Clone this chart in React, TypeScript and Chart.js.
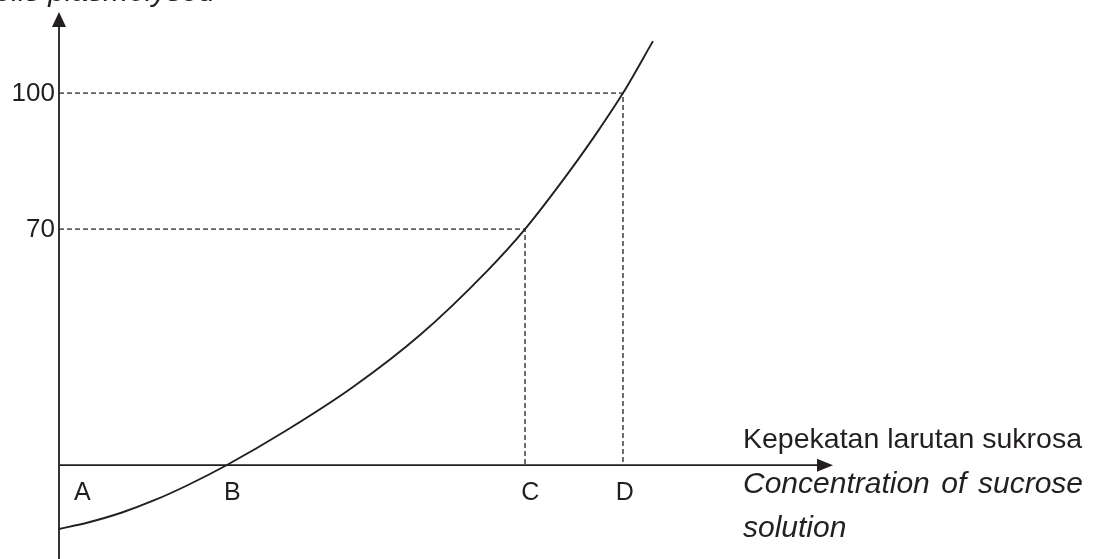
import React, { useEffect, useRef } from "react";
import { Chart, registerables } from "chart.js";

Chart.register(...registerables);

// Curve: concentration (x) vs % cells plasmolysed (y), schematic units
const curveX = [0, 3.75, 8.14, 12.4, 16.67, 21.58, 29.46, 37.98, 46.64, 55.3, 60.21, 66.02, 69.9, 72.87, 76.74];
const curveY = [3.82, 5.26, 7.46, 10.22, 13.53, 17.83, 25.66, 35.15, 46.62, 60.74, 70, 82.9, 92.28, 100, 111.47];

// x-axis baseline level and ranges
const baseLevel = 17.9;
const xMin = 0;
const xMax = 100;
const yMin = -2.8;
const yMax = 117.9;

// guide points (C -> 70, D -> 100)
const guideX = [60.21, 72.87];
const guideY = [70, 100];

const yTickValues = [70, 100];
const yTickLabels = ["70", "100"];

const xLabelValues = [3.0, 22.4, 60.9, 73.1];
const xLabels = ["A", "B", "C", "D"];

const axisTitle1 = "Kepekatan larutan sukrosa";
const axisTitle2Words = ["Concentration", "of", "sucrose"];
const axisTitle3 = "solution";
const yTitle = "Percentage of cells plasmolysed";

const INK = "#231f20";
const FONT = "'Liberation Sans', Arial, sans-serif";

export default function App() {
  const ref = useRef<HTMLCanvasElement | null>(null);

  useEffect(() => {
    document.body.style.margin = "0";
    const canvas = ref.current;
    if (!canvas) return;

    const curve = curveX.map((x, i) => ({ x, y: curveY[i] }));
    const guides = guideX.map((gx, i) => ({
      label: "guide" + i,
      data: [
        { x: xMin, y: guideY[i] },
        { x: gx, y: guideY[i] },
        { x: gx, y: baseLevel },
      ],
      borderColor: INK,
      borderWidth: 1.3,
      borderDash: [5, 3],
      pointRadius: 0,
      tension: 0,
      clip: false as any,
    }));

    const decor = {
      id: "decor",
      afterDatasetsDraw(chart: any) {
        const ctx = chart.ctx;
        const xs = chart.scales.x;
        const ys = chart.scales.y;
        const area = chart.chartArea;
        ctx.save();
        ctx.fillStyle = INK;
        // y arrowhead
        const yx = xs.getPixelForValue(xMin);
        const yTip = ys.getPixelForValue(yMax);
        ctx.beginPath();
        ctx.moveTo(yx, yTip);
        ctx.lineTo(yx - 7, yTip + 15);
        ctx.lineTo(yx + 7, yTip + 15);
        ctx.closePath();
        ctx.fill();
        // x arrowhead
        const by = ys.getPixelForValue(baseLevel);
        const xTip = xs.getPixelForValue(xMax);
        ctx.beginPath();
        ctx.moveTo(xTip, by);
        ctx.lineTo(xTip - 16, by - 6.5);
        ctx.lineTo(xTip - 16, by + 6.5);
        ctx.closePath();
        ctx.fill();

        // y tick labels
        ctx.font = "26px " + FONT;
        ctx.textAlign = "right";
        ctx.textBaseline = "middle";
        yTickValues.forEach((v, i) => {
          ctx.fillText(yTickLabels[i], yx - 4, ys.getPixelForValue(v) + 1);
        });

        // x labels
        ctx.font = "25px " + FONT;
        ctx.textAlign = "center";
        xLabelValues.forEach((v, i) => {
          ctx.fillText(xLabels[i], xs.getPixelForValue(v), by + 28);
        });

        // axis title (right side)
        const left = area.right - 90;
        const right = area.right + 250;
        ctx.textAlign = "left";
        ctx.font = "28.5px " + FONT;
        ctx.fillText(axisTitle1, left, by - 25);
        ctx.font = "italic 30px " + FONT;
        const y2 = by + 19;
        ctx.fillText(axisTitle2Words[0], left, y2);
        ctx.textAlign = "right";
        ctx.fillText(axisTitle2Words[2], right, y2);
        const w0 = ctx.measureText(axisTitle2Words[0]).width;
        const w2 = ctx.measureText(axisTitle2Words[2]).width;
        ctx.textAlign = "center";
        ctx.fillText(axisTitle2Words[1], (left + w0 + right - w2) / 2, y2);
        ctx.textAlign = "left";
        ctx.fillText(axisTitle3, left, by + 63);

        // clipped y title at top
        ctx.textAlign = "right";
        ctx.textBaseline = "alphabetic";
        ctx.fillText(yTitle, 215, 1);
        ctx.restore();
      },
    };

    const chart = new Chart(canvas, {
      type: "line",
      data: {
        datasets: [
          {
            label: "curve",
            data: curve,
            borderColor: INK,
            borderWidth: 1.9,
            pointRadius: 0,
            cubicInterpolationMode: "monotone",
            clip: false as any,
          },
          ...guides,
          {
            label: "xaxis",
            data: [
              { x: xMin, y: baseLevel },
              { x: xMax - 2, y: baseLevel },
            ],
            borderColor: INK,
            borderWidth: 1.8,
            pointRadius: 0,
            clip: false as any,
          },
          {
            label: "yaxis",
            data: [
              { x: xMin, y: yMin },
              { x: xMin, y: yMax - 3 },
            ],
            borderColor: INK,
            borderWidth: 1.8,
            pointRadius: 0,
            clip: false as any,
          },
        ] as any,
      },
      options: {
        animation: false,
        responsive: false,
        maintainAspectRatio: false,
        layout: { padding: { left: 59, right: 260, top: 12, bottom: 0 } },
        plugins: { legend: { display: false }, tooltip: { enabled: false }, title: { display: false } },
        scales: {
          x: { type: "linear", min: xMin, max: xMax, display: false },
          y: { type: "linear", min: yMin, max: yMax, display: false },
        },
      },
      plugins: [decor],
    });
    return () => chart.destroy();
  }, []);

  return <canvas ref={ref} width={1093} height={559} style={{ display: "block" }} />;
}
